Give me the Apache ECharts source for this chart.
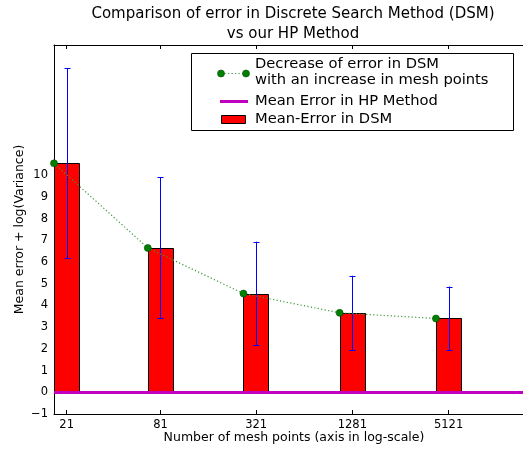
<!DOCTYPE html>
<html>
<head>
<meta charset="utf-8">
<script src="https://cdn.jsdelivr.net/npm/echarts@6/dist/echarts.min.js"></script>
<style>html,body{margin:0;padding:0;background:#fff;}#c{width:523px;height:449px;}</style>
</head>
<body>
<div id="c"></div>
<script>
// ---- data ----
const meshPoints = [21, 81, 321, 1281, 5121];
const meanErrorDSM = [10.55, 6.65, 4.55, 3.66, 3.40];
const errHalf = [4.37, 3.25, 2.39, 1.71, 1.47];
const hpMeanError = 0;
const yTickValues = [-1, 0, 1, 2, 3, 4, 5, 6, 7, 8, 9, 10];
const xTickLabels = ['21', '81', '321', '1281', '5121'];

// bar half-width factor in log space (bar spans n/k .. n*k), dots at bar left edge
const K = 1.2;

const FONT = 'DejaVu Sans';
const chart = echarts.init(document.getElementById('c'), null, {renderer: 'canvas'});

const barData = meshPoints.map((n, i) => [n, meanErrorDSM[i]]);
const errData = meshPoints.map((n, i) => [n, meanErrorDSM[i] - errHalf[i], meanErrorDSM[i] + errHalf[i]]);
const dotData = meshPoints.map((n, i) => [n / K, meanErrorDSM[i]]);

const xMin = meshPoints[0] / K;
const xMax = xMin * 1000;

const xAxisCommon = {
  type: 'log', logBase: 10, min: xMin, max: xMax,
  splitLine: {show: false}, minorTick: {show: false},
  axisLine: {show: true, onZero: false, lineStyle: {color: '#000', width: 1}}
};

const LEG_FONT = '14.7px "DejaVu Sans"';

chart.setOption({
  animation: false,
  title: {
    text: 'Comparison of error in Discrete Search Method (DSM)\nvs our HP Method',
    left: 293, top: 4, textAlign: 'center', padding: 0,
    textStyle: {fontFamily: FONT, fontSize: 15, fontWeight: 'normal', color: '#000', lineHeight: 20}
  },
  grid: {left: 54, right: -11, top: 45, bottom: 35, containLabel: false, outerBoundsMode: 'none'},
  xAxis: [
    Object.assign({}, xAxisCommon, {
      position: 'bottom',
      name: 'Number of mesh points (axis in log-scale)',
      nameLocation: 'middle', nameGap: 17, nameMoveOverlap: false,
      nameTextStyle: {fontFamily: FONT, fontSize: 12.5, color: '#000'},
      axisTick: {show: true, inside: true, length: 4, lineStyle: {color: '#000'}, customValues: meshPoints},
      axisLabel: {show: true, margin: 5, fontFamily: FONT, fontSize: 11.5, color: '#000',
        customValues: meshPoints,
        formatter: v => xTickLabels[meshPoints.indexOf(Math.round(v))] || ''}
    }),
    Object.assign({}, xAxisCommon, {
      position: 'top',
      axisTick: {show: true, inside: true, length: 4, lineStyle: {color: '#000'}, customValues: meshPoints},
      axisLabel: {show: false}
    })
  ],
  yAxis: {
    type: 'value', min: -1, max: 16, interval: 1,
    name: 'Mean error + log(Variance)', nameLocation: 'middle', nameGap: 28, nameMoveOverlap: false,
    nameTextStyle: {fontFamily: FONT, fontSize: 12.5, color: '#000'},
    splitLine: {show: false},
    axisLine: {show: true, onZero: false, lineStyle: {color: '#000', width: 1}},
    axisTick: {show: false},
    axisLabel: {
      margin: 6, fontFamily: FONT, fontSize: 11.5, color: '#000',
      customValues: yTickValues,
      formatter: v => (v < 0 ? '\u2212' + Math.abs(v) : String(v))
    }
  },
  series: [
    {
      name: 'Mean-Error in DSM', type: 'custom', z: 2,
      data: barData,
      renderItem: (params, api) => {
        const n = api.value(0), v = api.value(1);
        const p0 = api.coord([n / K, 0]);
        const p1 = api.coord([n * K, v]);
        return {
          type: 'rect',
          shape: {x: Math.round(p0[0]) + 0.5, y: Math.round(p1[1]) + 0.5, width: Math.round(p1[0] - p0[0]), height: Math.round(p0[1] - p1[1])},
          style: {fill: '#ff0000', stroke: '#000', lineWidth: 1}
        };
      },
      encode: {x: 0, y: 1}
    },
    {
      name: 'err', type: 'custom', z: 3,
      data: errData,
      renderItem: (params, api) => {
        const n = api.value(0);
        const lo = api.coord([n, api.value(1)]);
        const hi = api.coord([n, api.value(2)]);
        const x = Math.round(lo[0]) + 0.5;
        const cap = 3;
        const st = {stroke: '#0000ff', lineWidth: 1, fill: null};
        return {
          type: 'group', children: [
            {type: 'line', shape: {x1: x, y1: lo[1], x2: x, y2: hi[1]}, style: st},
            {type: 'line', shape: {x1: x - cap, y1: Math.round(lo[1]) + 0.5, x2: x + cap, y2: Math.round(lo[1]) + 0.5}, style: st},
            {type: 'line', shape: {x1: x - cap, y1: Math.round(hi[1]) + 0.5, x2: x + cap, y2: Math.round(hi[1]) + 0.5}, style: st}
          ]
        };
      },
      encode: {x: 0, y: [1, 2]}
    },
    {
      name: 'Decrease of error in DSM\nwith an increase in mesh points', type: 'line', z: 4,
      data: dotData,
      symbol: 'circle', symbolSize: 7,
      itemStyle: {color: '#008000', borderColor: '#004d00', borderWidth: 0.6},
      lineStyle: {color: '#3a9a3a', width: 1.2, type: [1.2, 2.3]}
    },
    {
      name: 'Mean Error in HP Method', type: 'line', z: 5,
      data: [], symbol: 'none',
      markLine: {
        silent: true, symbol: ['none', 'none'], label: {show: false},
        lineStyle: {color: '#bf00bf', width: 3, type: 'solid'},
        data: [{yAxis: hpMeanError}]
      }
    }
  ],
  graphic: [
    {
      type: 'group', left: 191, top: 53, z: 100,
      children: [
        {type: 'rect', shape: {x: 0.5, y: 0.5, width: 322, height: 77}, style: {fill: '#fff', stroke: '#000', lineWidth: 1}},
        {type: 'line', shape: {x1: 30, y1: 20.5, x2: 55, y2: 20.5}, style: {stroke: '#3a9a3a', lineWidth: 1.2, lineDash: [1.2, 2.3]}},
        {type: 'circle', shape: {cx: 30, cy: 20.5, r: 3.5}, style: {fill: '#008000', stroke: '#004d00', lineWidth: 0.6}},
        {type: 'circle', shape: {cx: 55, cy: 20.5, r: 3.5}, style: {fill: '#008000', stroke: '#004d00', lineWidth: 0.6}},
        {type: 'text', x: 64, y: 19.5, style: {text: 'Decrease of error in DSM\nwith an increase in mesh points', font: LEG_FONT, fill: '#000', verticalAlign: 'middle', lineHeight: 16}},
        {type: 'line', shape: {x1: 29, y1: 48.5, x2: 57, y2: 48.5}, style: {stroke: '#bf00bf', lineWidth: 3}},
        {type: 'text', x: 64, y: 48.5, style: {text: 'Mean Error in HP Method', font: LEG_FONT, fill: '#000', verticalAlign: 'middle'}},
        {type: 'rect', shape: {x: 30.5, y: 62.5, width: 24, height: 8}, style: {fill: '#ff0000', stroke: '#000', lineWidth: 1}},
        {type: 'text', x: 64, y: 66, style: {text: 'Mean-Error in DSM', font: LEG_FONT, fill: '#000', verticalAlign: 'middle'}}
      ]
    }
  ]
});
</script>
</body>
</html>
